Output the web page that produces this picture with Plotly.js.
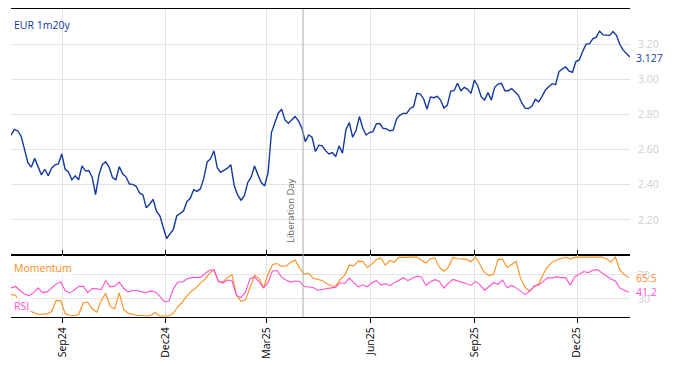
<!DOCTYPE html>
<html>
<head>
<meta charset="utf-8">
<script src="https://cdn.plot.ly/plotly-3.0.1.min.js"></script>
<style>html,body{margin:0;padding:0;background:#fff;}#chart{width:674px;height:366px;}</style>
</head>
<body>
<div id="chart"></div>
<script>
// ---- data ----
const seriesName = 'EUR 1m20y';
const mainStart = '2024-07-17';   // first observation
const mainStepDays = 3;           // spacing of the sampled observations
const rateValues = [
2.682,2.715,2.706,2.676,2.601,2.526,2.500,2.550,2.503,2.456,
2.488,2.451,2.494,2.513,2.518,2.575,2.488,2.473,2.428,2.451,
2.428,2.507,2.479,2.481,2.443,2.344,2.456,2.515,2.530,2.500,
2.441,2.428,2.503,2.462,2.445,2.404,2.402,2.391,2.353,2.342,
2.269,2.289,2.317,2.250,2.223,2.156,2.094,2.120,2.146,2.222,
2.237,2.250,2.304,2.323,2.372,2.362,2.376,2.436,2.530,2.548,
2.593,2.496,2.471,2.484,2.494,2.513,2.394,2.342,2.312,2.338,
2.413,2.443,2.507,2.456,2.412,2.393,2.469,2.697,2.757,2.807,
2.829,2.769,2.750,2.769,2.788,2.763,2.721,2.645,2.683,2.670,
2.589,2.625,2.621,2.594,2.575,2.583,2.560,2.621,2.579,2.712,
2.754,2.670,2.708,2.788,2.721,2.683,2.697,2.702,2.746,2.748,
2.721,2.718,2.707,2.710,2.775,2.796,2.806,2.806,2.834,2.844,
2.920,2.916,2.888,2.830,2.899,2.895,2.903,2.882,2.836,2.853,
2.933,2.935,2.977,2.935,2.954,2.943,2.920,2.996,2.962,2.901,
2.882,2.924,2.882,2.954,2.973,2.977,2.935,2.935,2.947,2.929,
2.909,2.865,2.836,2.834,2.848,2.886,2.872,2.903,2.939,2.958,
2.975,2.970,3.044,3.059,3.070,3.046,3.040,3.101,3.110,3.158,
3.200,3.202,3.230,3.240,3.274,3.253,3.251,3.250,3.272,3.250,
3.198,3.166,3.145,3.127
];

const indStart = '2024-07-17';
const indStepDays = 4;
const momentumValues = [
37.1,36.0,22.9,14.4,9.9,6.4,4.2,4.2,4.7,8.7,
26.9,26.9,5.3,2.5,1.9,3.6,22.9,24.6,13.3,7.6,
26.9,39.4,17.2,13.3,39.9,11.6,5.9,4.2,1.9,1.9,
1.3,2.5,7.0,1.3,1.3,1.3,5.9,16.7,24.6,34.8,
42.8,48.4,56.4,62.6,72.8,78.5,58.6,58.6,66.0,70.0,
36.0,25.8,28.6,50.7,69.4,64.3,48.4,71.1,87.6,89.3,
84.2,85.3,91.0,95.0,81.3,71.7,72.8,64.3,63.2,60.9,
55.2,51.8,51.3,62.6,69.4,86.4,85.3,93.3,92.7,82.5,
88.2,95.5,98.4,86.4,94.4,91.0,99.5,100,100,100,
100,94.4,90.0,97.2,98.4,82.5,76.2,83.6,99.5,97.2,
97.2,96.1,92.1,100,87.0,74.0,68.9,71.1,96.1,96.1,
82.5,87.0,92.7,63.8,49.0,42.8,50.7,54.7,71.1,84.2,
91.6,95.0,97.8,100,96.7,99.5,100,100,100,100,
100,100,97.2,91.6,100,78.0,70.6,65.5
];
const rsiValues = [
48.4,50.7,43.9,38.2,35.4,39.9,48.4,40.5,41.6,48.4,
54.7,58.6,43.9,39.9,44.5,50.7,51.3,40.5,47.3,46.7,
45.6,60.4,50.1,51.3,58.1,47.3,41.6,43.9,43.9,41.6,
40.5,43.3,41.6,34.3,25.2,25.8,46.7,58.1,58.1,63.2,
65.5,66.0,66.0,72.3,77.9,78.5,59.8,56.4,61.5,59.8,
36.0,32.0,41.6,63.8,66.6,58.6,48.4,57.0,76.8,77.4,
66.0,61.5,58.1,59.8,59.2,50.7,50.1,49.0,44.5,45.6,
47.3,49.0,49.6,57.0,55.8,64.9,57.0,50.1,53.5,50.1,
57.0,60.4,53.5,55.2,52.4,56.4,60.4,65.5,60.4,64.9,
67.7,66.6,52.4,58.6,62.1,59.2,47.9,56.4,62.6,60.4,
57.0,55.2,52.4,59.2,53.5,44.5,50.7,57.0,54.3,61.5,
48.4,52.4,48.4,42.2,37.1,42.8,51.3,53.0,59.2,65.5,
64.9,67.2,65.5,65.5,52.9,67.2,71.1,75.7,74.0,77.9,
79.0,74.0,68.9,63.2,59.8,47.9,44.5,41.2
];

const eventDate = '2025-04-02';
const eventLabel = 'Liberation Day';
const mainTicks = [2.2, 2.4, 2.6, 2.8, 3.0, 3.2];
const indTicks = [30, 70];

// ---- build dates ----
function dateSeq(start, step, n) {
  const out = [];
  const d0 = new Date(start + 'T00:00:00Z');
  for (let i = 0; i < n; i++) {
    const d = new Date(d0.getTime() + i * step * 86400000);
    out.push(d.toISOString().slice(0, 10));
  }
  return out;
}
const mainDates = dateSeq(mainStart, mainStepDays, rateValues.length);
const indDates = dateSeq(indStart, indStepDays, momentumValues.length);

const BLUE = '#1339a0';
const ORANGE = '#ff8c1a';
const PINK = '#ff4fd6';
const GRID = '#e3e3e3';
const TICKGREY = '#cfcfcf';

const traces = [
  {x: mainDates, y: rateValues, type: 'scatter', mode: 'lines',
   line: {color: BLUE, width: 1.4}, xaxis: 'x', yaxis: 'y', hoverinfo: 'skip'},
  {x: indDates, y: momentumValues, type: 'scatter', mode: 'lines',
   line: {color: ORANGE, width: 1.1}, xaxis: 'x2', yaxis: 'y2', hoverinfo: 'skip'},
  {x: indDates, y: rsiValues, type: 'scatter', mode: 'lines',
   line: {color: PINK, width: 1.1}, xaxis: 'x2', yaxis: 'y2', hoverinfo: 'skip'}
];

const xr = ['2024-07-17', '2026-01-17'];
const split = 62 / 308;
const fam = '"Open Sans", sans-serif';

const layout = {
  width: 674, height: 366,
  margin: {l: 11, r: 44, t: 9, b: 49, pad: 0},
  paper_bgcolor: '#fff', plot_bgcolor: '#fff',
  showlegend: false,
  font: {family: fam, size: 11, color: '#000'},
  xaxis: {
    domain: [0, 1], anchor: 'y', range: xr, type: 'date',
    showline: true, linecolor: '#000', linewidth: 1, mirror: true,
    ticks: 'inside', ticklen: 5, tickcolor: '#000',
    showticklabels: false, showgrid: true, gridcolor: GRID,
    dtick: 'M3', tick0: '2024-09-01', zeroline: false
  },
  yaxis: {
    domain: [split, 1], anchor: 'x', range: [2.0, 3.4], side: 'right',
    tickvals: mainTicks, tickformat: '.2f', showgrid: true, gridcolor: GRID,
    showline: false, zeroline: false, ticks: 'outside', ticklen: 5, tickcolor: 'rgba(0,0,0,0)',
    tickfont: {color: TICKGREY, size: 10.5, family: fam}
  },
  xaxis2: {
    domain: [0, 1], anchor: 'y2', range: xr, type: 'date', matches: 'x',
    showline: true, linecolor: '#000', linewidth: 1, mirror: true,
    ticks: 'outside', ticklen: 5, tickcolor: '#000',
    tickangle: -90, tickformat: '%b%y', dtick: 'M3', tick0: '2024-09-01',
    showgrid: true, gridcolor: GRID, zeroline: false,
    tickfont: {size: 10.5, color: '#000', family: fam}
  },
  yaxis2: {
    domain: [0, split], anchor: 'x2', range: [-0.5, 103.5], side: 'right',
    tickvals: indTicks, showgrid: true, gridcolor: GRID,
    showline: false, zeroline: false, ticks: 'outside', ticklen: 5, tickcolor: 'rgba(0,0,0,0)',
    tickfont: {color: TICKGREY, size: 10.5, family: fam}
  },
  shapes: [
    {type: 'line', xref: 'x', yref: 'paper', x0: eventDate, x1: eventDate, y0: 0, y1: 1,
     line: {color: '#aaaaaa', width: 1}}
  ],
  annotations: [
    {text: seriesName, xref: 'paper', yref: 'paper', x: 0, y: (317 - 25) / 308,
     xanchor: 'left', yanchor: 'middle', xshift: 1, showarrow: false,
     font: {color: BLUE, size: 10.5, family: fam}},
    {text: rateValues[rateValues.length - 1].toFixed(3), xref: 'paper', yref: 'y', x: 1,
     y: rateValues[rateValues.length - 1], xanchor: 'left', yanchor: 'middle', xshift: 4, yshift: -1,
     showarrow: false, font: {color: BLUE, size: 10.5, family: fam}},
    {text: 'Momentum', xref: 'paper', yref: 'paper', x: 0, y: (317 - 268) / 308,
     xanchor: 'left', yanchor: 'middle', xshift: 1, showarrow: false, bgcolor: 'rgba(255,255,255,0.75)',
     font: {color: ORANGE, size: 10.5, family: fam}},
    {text: 'RSI', xref: 'paper', yref: 'paper', x: 0, y: (317 - 306) / 308,
     xanchor: 'left', yanchor: 'middle', xshift: 1, showarrow: false, bgcolor: 'rgba(255,255,255,0.75)',
     font: {color: PINK, size: 10.5, family: fam}},
    {text: momentumValues[momentumValues.length - 1].toFixed(1), xref: 'paper', yref: 'y2', x: 1,
     y: momentumValues[momentumValues.length - 1], xanchor: 'left', yanchor: 'middle', xshift: 4,
     showarrow: false, font: {color: ORANGE, size: 10.5, family: fam}},
    {text: rsiValues[rsiValues.length - 1].toFixed(1), xref: 'paper', yref: 'y2', x: 1,
     y: rsiValues[rsiValues.length - 1], xanchor: 'left', yanchor: 'middle', xshift: 4,
     showarrow: false, font: {color: PINK, size: 10.5, family: fam}},
    {text: eventLabel, xref: 'x', yref: 'y', x: eventDate, y: 2.0, textangle: -90,
     xanchor: 'right', yanchor: 'bottom', xshift: -4, yshift: 10, showarrow: false,
     font: {color: '#666666', size: 9.5, family: fam}}
  ]
};

Plotly.newPlot('chart', traces, layout, {staticPlot: true, displayModeBar: false});
</script>
</body>
</html>
